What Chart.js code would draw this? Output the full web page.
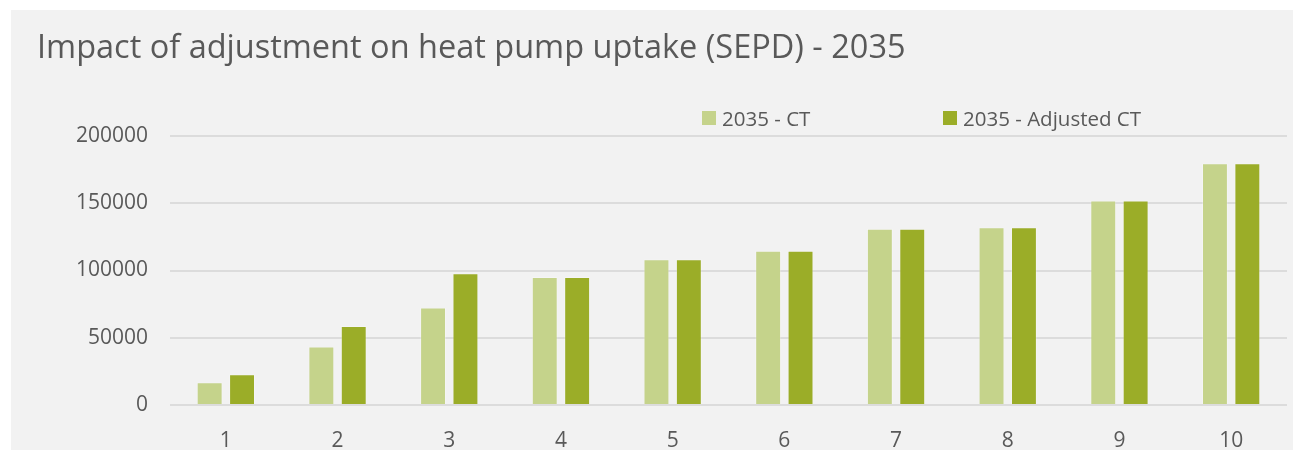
<!DOCTYPE html>
<html>
<head>
<meta charset="utf-8">
<script src="https://cdn.jsdelivr.net/npm/chart.js@4/dist/chart.umd.min.js"></script>
<style>
    html, body { margin: 0; padding: 0; background: #ffffff; }
    #frame {
        position: absolute; left: 11px; top: 10px; width: 1282px; height: 440px;
        background: #f2f2f2; font-family: "Open Sans", sans-serif; color: #595959;
    }
    #title {
        position: absolute; left: 26px; top: 13px; font-size: 32.5px; white-space: nowrap;
    }
    #legend {
        position: absolute; left: 691px; top: 94px; font-size: 20.5px; white-space: nowrap;
    }
    .item { position: absolute; top: 0; display: flex; align-items: center; height: 28px; }
    .swatch { width: 14px; height: 14px; margin-right: 6px; }
    #chart { position: absolute; left: 0; top: 0; }
</style>
</head>
<body>
<div id="frame">
    <canvas id="chart" width="1282" height="440"></canvas>
    <div id="title">Impact of adjustment on heat pump uptake (SEPD) - 2035</div>
    <div id="legend"></div>
</div>
<script>
const categories = ['1', '2', '3', '4', '5', '6', '7', '8', '9', '10'];
const seriesNames = ['2035 - CT', '2035 - Adjusted CT'];
const ctValues = [17000, 43500, 72500, 95200, 108300, 114600, 131000, 132200, 152000, 179700];
const adjustedValues = [22800, 58800, 97900, 95200, 108300, 114600, 131000, 132200, 152000, 179700];
const yTicks = [0, 50000, 100000, 150000, 200000];
const colors = ['#c5d38b', '#9bad28'];

// HTML legend, positioned like the original
const legendEl = document.getElementById('legend');
const legendOffsets = [0, 241];
seriesNames.forEach(function (name, i) {
    const item = document.createElement('div');
    item.className = 'item';
    item.style.left = legendOffsets[i] + 'px';
    item.innerHTML = '<span class="swatch" style="background:' + colors[i] + '"></span><span>' + name + '</span>';
    legendEl.appendChild(item);
});

new Chart(document.getElementById('chart'), {
    type: 'bar',
    data: {
        labels: categories,
        datasets: [
            {
                label: seriesNames[0],
                data: ctValues,
                backgroundColor: colors[0],
                borderColor: 'rgba(255,255,255,0.25)',
                borderWidth: 1
            },
            {
                label: seriesNames[1],
                data: adjustedValues,
                backgroundColor: colors[1],
                borderColor: 'rgba(255,255,255,0.25)',
                borderWidth: 1
            }
        ]
    },
    options: {
        responsive: false,
        animation: false,
        datasets: {
            bar: {
                categoryPercentage: 0.58,
                barPercentage: 0.8
            }
        },
        layout: {
            padding: { top: 126, right: 6, bottom: 0, left: 0 }
        },
        plugins: {
            legend: { display: false },
            tooltip: { enabled: false }
        },
        scales: {
            x: {
                grid: { display: false },
                border: { display: false },
                ticks: {
                    color: '#595959',
                    font: { family: 'Open Sans', size: 21 },
                    padding: 15
                },
                afterFit: function (scale) { scale.height = 45; }
            },
            y: {
                min: 0,
                max: 200000,
                afterBuildTicks: function (scale) {
                    scale.ticks = yTicks.map(v => ({ value: v }));
                },
                grid: {
                    color: '#dcdcdc',
                    lineWidth: 2,
                    drawTicks: false
                },
                border: { display: false },
                ticks: {
                    color: '#595959',
                    font: { family: 'Open Sans', size: 21 },
                    padding: 22,
                    callback: function (value) { return String(value); }
                },
                afterFit: function (scale) { scale.width = 159; }
            }
        }
    }
});
</script>
</body>
</html>
